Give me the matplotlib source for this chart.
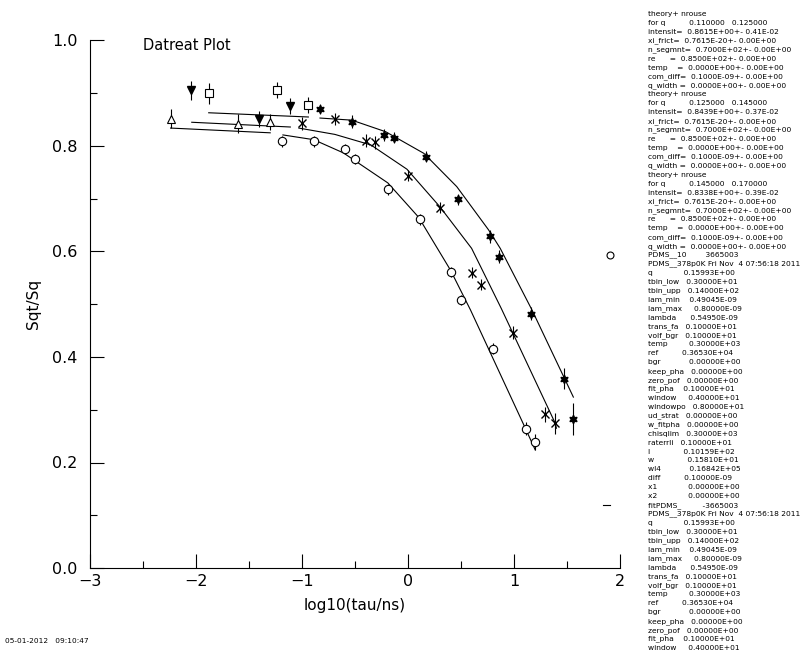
import numpy as np
import matplotlib
matplotlib.use("Agg")
import matplotlib.pyplot as plt
from matplotlib.lines import Line2D

nan = np.nan

# data sets
circ_x = [-1.19, -0.89, -0.59, -0.50, -0.19, 0.11, 0.41, 0.50, 0.80, 1.11, 1.20]
circ_y = [0.809, 0.809, 0.794, 0.775, 0.718, 0.661, 0.561, 0.508, 0.416, 0.264, 0.239]
circ_e = [0.010, 0.010, 0.010, 0.010, 0.010, 0.010, 0.010, 0.010, 0.010, 0.012, 0.015]

cross_x = [-1.00, -0.69, -0.40, -0.31, 0.00, 0.30, 0.60, 0.69, 0.99, 1.29, 1.39]
cross_y = [0.843, 0.851, 0.810, 0.807, 0.744, 0.683, 0.560, 0.537, 0.446, 0.291, 0.274]
cross_e = [0.012, 0.012, 0.012, 0.012, 0.010, 0.010, 0.010, 0.010, 0.012, 0.015, 0.020]

star_x = [-0.83, -0.53, -0.23, -0.13, 0.17, 0.47, 0.77, 0.86, 1.16, 1.47, 1.56]
star_y = [0.870, 0.846, 0.821, 0.816, 0.780, 0.699, 0.629, 0.590, 0.482, 0.359, 0.282]
star_e = [0.010, 0.012, 0.012, 0.010, 0.010, 0.010, 0.012, 0.012, 0.012, 0.020, 0.030]

tri_x = [-2.24, -1.60, -1.30]
tri_y = [0.852, 0.842, 0.845]
tri_e = [0.018, 0.018, 0.015]

down_x = [-2.05, -1.41, -1.11]
down_y = [0.906, 0.851, 0.876]
down_e = [0.018, 0.015, 0.015]

sq_x = [-1.88, -1.24, -0.94]
sq_y = [0.900, 0.906, 0.878]
sq_e = [0.020, 0.015, 0.015]

# fit curves (nrouse theory), three q ranges
fit_low_x = [-2.24, -1.30, nan, -1.18, -0.89, -0.61, -0.19, 0.10, 0.40, 0.59, 1.10, 1.20]
fit_low_y = [0.834, 0.825, nan, 0.821, 0.812, 0.787, 0.730, 0.665, 0.565, 0.489, 0.268, 0.224]
fit_mid_x = [-2.04, -1.11, nan, -1.03, -0.69, -0.35, -0.01, 0.30, 0.60, 0.88, 1.39, 1.40]
fit_mid_y = [0.845, 0.836, nan, 0.834, 0.822, 0.802, 0.756, 0.685, 0.606, 0.492, 0.274, 0.265]
fit_top_x = [-1.88, -0.94, nan, -0.83, -0.53, -0.21, 0.15, 0.46, 0.76, 0.87, 1.17, 1.56]
fit_top_y = [0.863, 0.855, nan, 0.853, 0.849, 0.827, 0.786, 0.723, 0.641, 0.606, 0.489, 0.324]

info_lines = [
    "theory+ nrouse",
    "for q          0.110000   0.125000",
    "intensit=  0.8615E+00+- 0.41E-02",
    "xi_frict=  0.7615E-20+- 0.00E+00",
    "n_segmnt=  0.7000E+02+- 0.00E+00",
    "re      =  0.8500E+02+- 0.00E+00",
    "temp    =  0.0000E+00+- 0.00E+00",
    "com_diff=  0.1000E-09+- 0.00E+00",
    "q_width =  0.0000E+00+- 0.00E+00",
    "theory+ nrouse",
    "for q          0.125000   0.145000",
    "intensit=  0.8439E+00+- 0.37E-02",
    "xi_frict=  0.7615E-20+- 0.00E+00",
    "n_segmnt=  0.7000E+02+- 0.00E+00",
    "re      =  0.8500E+02+- 0.00E+00",
    "temp    =  0.0000E+00+- 0.00E+00",
    "com_diff=  0.1000E-09+- 0.00E+00",
    "q_width =  0.0000E+00+- 0.00E+00",
    "theory+ nrouse",
    "for q          0.145000   0.170000",
    "intensit=  0.8338E+00+- 0.39E-02",
    "xi_frict=  0.7615E-20+- 0.00E+00",
    "n_segmnt=  0.7000E+02+- 0.00E+00",
    "re      =  0.8500E+02+- 0.00E+00",
    "temp    =  0.0000E+00+- 0.00E+00",
    "com_diff=  0.1000E-09+- 0.00E+00",
    "q_width =  0.0000E+00+- 0.00E+00",
    "PDMS__10        3665003",
    "PDMS__378p0K Fri Nov  4 07:56:18 2011",
    "q             0.15993E+00",
    "tbin_low   0.30000E+01",
    "tbin_upp   0.14000E+02",
    "lam_min    0.49045E-09",
    "lam_max     0.80000E-09",
    "lambda      0.54950E-09",
    "trans_fa   0.10000E+01",
    "volf_bgr   0.10000E+01",
    "temp         0.30000E+03",
    "ref          0.36530E+04",
    "bgr            0.00000E+00",
    "keep_pha   0.00000E+00",
    "zero_pof   0.00000E+00",
    "fit_pha    0.10000E+01",
    "window     0.40000E+01",
    "windowpo   0.80000E+01",
    "ud_strat   0.00000E+00",
    "w_fitpha   0.00000E+00",
    "chisqlim   0.30000E+03",
    "raterrli   0.10000E+01",
    "l              0.10159E+02",
    "w              0.15810E+01",
    "wl4            0.16842E+05",
    "diff          0.10000E-09",
    "x1             0.00000E+00",
    "x2             0.00000E+00",
    "fitPDMS_         -3665003",
    "PDMS__378p0K Fri Nov  4 07:56:18 2011",
    "q             0.15993E+00",
    "tbin_low   0.30000E+01",
    "tbin_upp   0.14000E+02",
    "lam_min    0.49045E-09",
    "lam_max     0.80000E-09",
    "lambda      0.54950E-09",
    "trans_fa   0.10000E+01",
    "volf_bgr   0.10000E+01",
    "temp         0.30000E+03",
    "ref          0.36530E+04",
    "bgr            0.00000E+00",
    "keep_pha   0.00000E+00",
    "zero_pof   0.00000E+00",
    "fit_pha    0.10000E+01",
    "window     0.40000E+01",
]

W, H = 807, 657
fig = plt.figure(figsize=(W / 100, H / 100), dpi=100)
ax = fig.add_axes([90 / W, 1 - 568 / H, 530 / W, 527.5 / H])

lw = 0.8
for fx, fy in [(fit_low_x, fit_low_y), (fit_mid_x, fit_mid_y), (fit_top_x, fit_top_y)]:
    ax.plot(fx, fy, color="black", lw=lw)

eb = dict(ecolor="black", elinewidth=lw, capsize=0, linestyle="none")
ax.errorbar(circ_x, circ_y, yerr=circ_e, marker="o", ms=6, mfc="white", mec="black", mew=lw, **eb)
ax.errorbar(cross_x, cross_y, yerr=cross_e, marker="x", ms=6, mec="black", mew=1.0, **eb)
ax.errorbar(star_x, star_y, yerr=star_e, marker=(6, 1, 0), ms=6, mfc="black", mec="black", **eb)
ax.errorbar(tri_x, tri_y, yerr=tri_e, marker="^", ms=6, mfc="white", mec="black", mew=lw, **eb)
ax.errorbar(down_x, down_y, yerr=down_e, marker="v", ms=6, mfc="black", mec="black", **eb)
ax.errorbar(sq_x, sq_y, yerr=sq_e, marker="s", ms=5.5, mfc="white", mec="black", mew=lw, **eb)

ax.set_xlim(-3, 2)
ax.set_ylim(0, 1)
ax.spines["top"].set_visible(False)
ax.spines["right"].set_visible(False)
for s in ["left", "bottom"]:
    ax.spines[s].set_linewidth(lw)
ax.set_xticks([-3, -2, -1, 0, 1, 2])
ax.set_xticks(np.arange(-2.5, 2, 1.0), minor=True)
ax.set_yticks([0.0, 0.2, 0.4, 0.6, 0.8, 1.0])
ax.set_yticks(np.arange(0.1, 1.0, 0.2), minor=True)
ax.set_yticklabels(["0.0", "0.2", "0.4", "0.6", "0.8", "1.0"])
ax.set_xticklabels(["\u22123", "\u22122", "\u22121", "0", "1", "2"])
ax.tick_params(which="major", direction="in", length=10, width=lw, labelsize=11.5, pad=4)
ax.tick_params(which="minor", direction="in", length=5, width=lw)
ax.tick_params(axis="y", which="major", pad=9)
ax.set_xlabel("log10(tau/ns)", fontsize=11, labelpad=7)
ax.set_ylabel("Sqt/Sq", fontsize=11, labelpad=8)
ax.text(0.10, 0.99, "Datreat Plot", transform=ax.transAxes, fontsize=10.5,
        ha="left", va="center")

# parameter listing on the right
x0 = 648 / W
for i, line in enumerate(info_lines):
    yp = 14 + i * 8.93
    fig.text(x0, 1 - yp / H, line, fontsize=5.4, ha="left", va="center")

# legend symbols
fig.add_artist(Line2D([610 / W], [1 - 255 / H], marker="o", ms=5, mfc="white", mec="black",
                      mew=lw, transform=fig.transFigure))
fig.add_artist(Line2D([603 / W, 610 / W], [1 - 505 / H, 1 - 505 / H], color="black", lw=lw,
                      transform=fig.transFigure))

fig.text(5 / W, 1 - 641 / H, "05-01-2012   09:10:47", fontsize=5.3, ha="left", va="center")

fig.savefig("out.png", dpi=100)
